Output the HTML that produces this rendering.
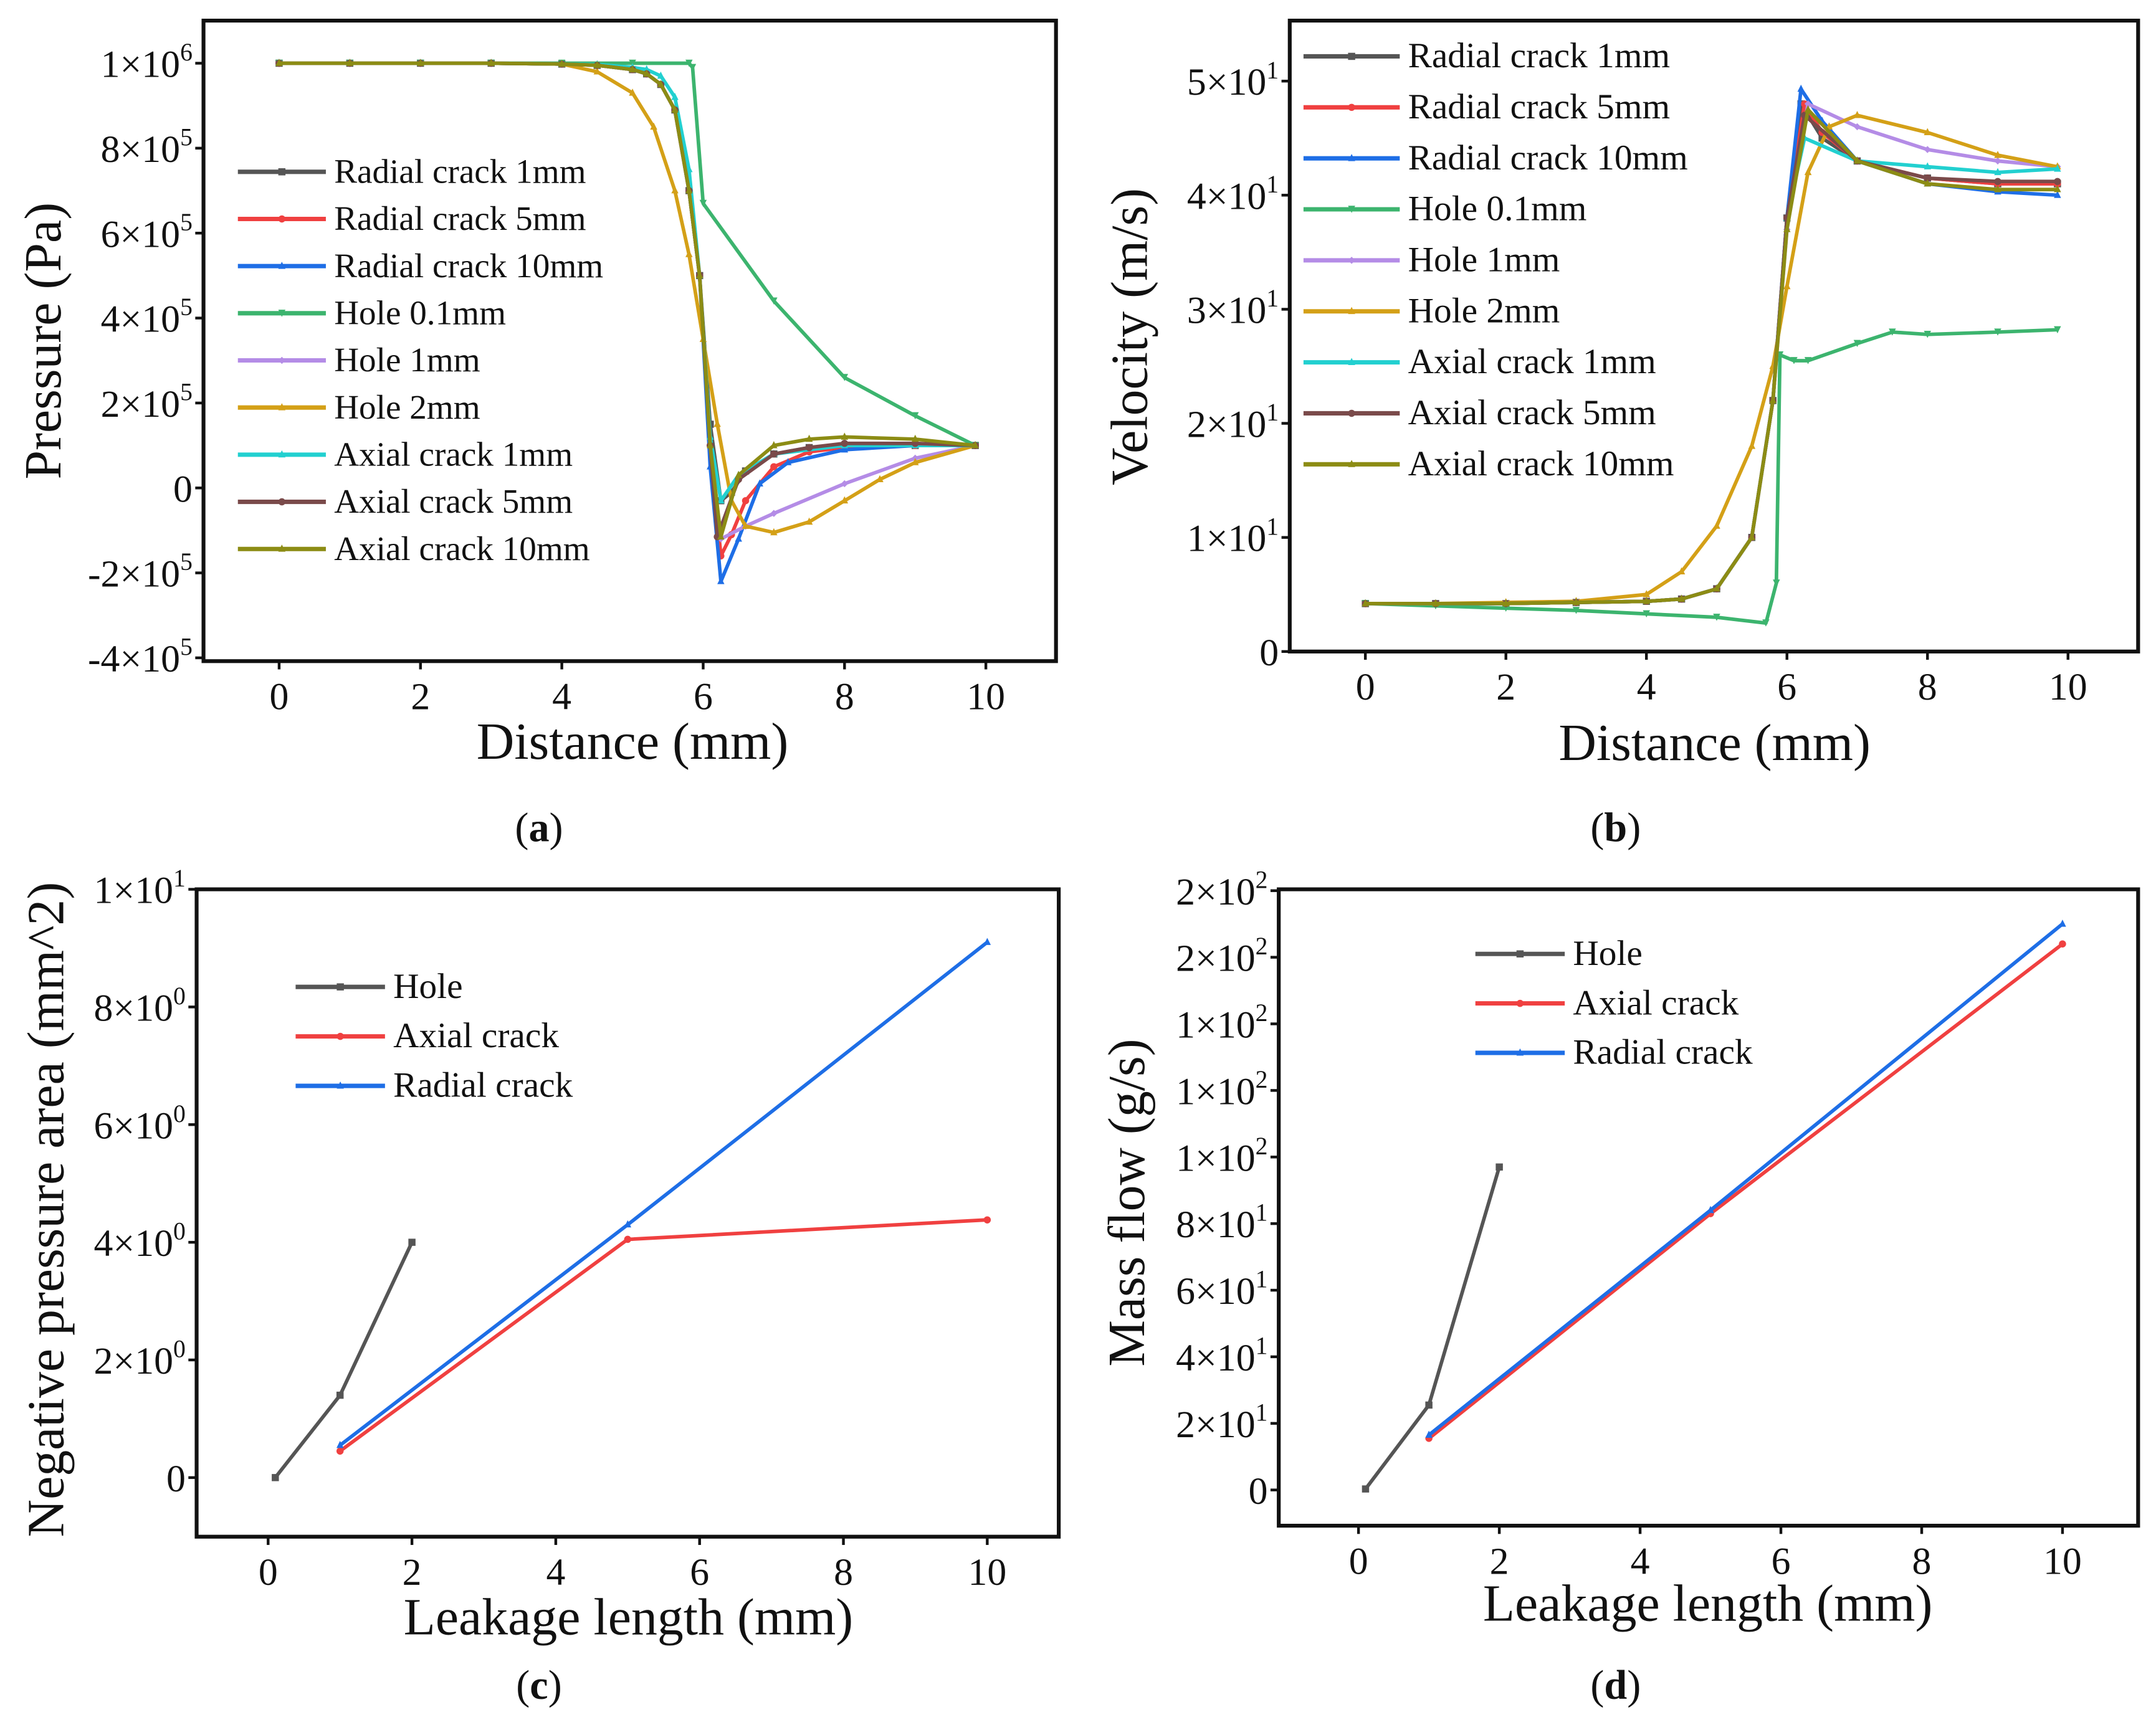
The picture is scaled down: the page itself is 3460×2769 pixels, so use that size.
<!DOCTYPE html>
<html><head><meta charset="utf-8"><style>
html,body{margin:0;padding:0;background:#fff}
svg{display:block}
svg text{font-family:"Liberation Serif","Times New Roman",serif;fill:#111}
</style></head><body>
<svg id="fig" xmlns="http://www.w3.org/2000/svg" width="3460" height="2769" viewBox="0 0 1568 1255" preserveAspectRatio="none" font-family="Liberation Serif, serif">
<rect width="1568" height="1255" fill="#fff"/>
</svg>
<script>
// ---------- data ----------
const aNames=["Radial crack 1mm","Radial crack 5mm","Radial crack 10mm","Hole 0.1mm","Hole 1mm","Hole 2mm","Axial crack 1mm","Axial crack 5mm","Axial crack 10mm"];
const colors=["#555555","#f04040","#1e6ee6","#3cb46e","#b48ce6","#d4a017","#22d0d0","#7a4a4a","#8c8c14"];
const markers=["s","c","t","v","d","t","t","c","t"];
// pressure (x mm, y in 1e5 Pa)
const pX=[
[0,1,2,3,4,4.5,5,5.2,5.4,5.6,5.8,5.95,6.1,6.25,6.4,6.6,7,7.5,8,9,9.85],
[0,1,2,3,4,4.5,5,5.2,5.4,5.6,5.8,5.95,6.1,6.25,6.4,6.6,7,7.5,8,9,9.85],
[0,1,2,3,4,4.5,5,5.2,5.4,5.6,5.8,5.95,6.1,6.25,6.5,6.8,7.2,8,9,9.85],
[0,1,2,3,4,5,5.8,5.85,6.0,7,8,9,9.85],
[0,1,2,3,4,4.5,5,5.2,5.4,5.6,5.8,5.95,6.1,6.25,6.6,7,8,9,9.85],
[0,1,2,3,4,4.5,5,5.3,5.6,5.8,6.0,6.2,6.4,6.6,7.0,7.5,8,8.5,9,9.85],
[0,1,2,3,4,4.5,5,5.2,5.4,5.6,5.8,5.95,6.1,6.25,6.5,7,8,9,9.85],
[0,1,2,3,4,4.5,5,5.2,5.4,5.6,5.8,5.95,6.1,6.2,6.5,7,7.5,8,9,9.85],
[0,1,2,3,4,4.5,5,5.2,5.4,5.6,5.8,5.95,6.1,6.25,6.5,7,7.5,8,9,9.85]];
const pY=[
[10,10,10,10,9.98,9.95,9.85,9.75,9.5,8.9,7,5,1.5,-0.3,-0.1,0.4,0.8,0.95,1.0,1.0,1.0],
[10,10,10,10,9.98,9.95,9.85,9.75,9.5,8.9,7,5,1,-1.6,-1.1,-0.3,0.5,0.85,0.95,1.0,1.0],
[10,10,10,10,9.98,9.95,9.85,9.75,9.5,8.9,7,5,0.5,-2.2,-1.2,0.1,0.6,0.9,1.0,1.0],
[10,10,10,10,10,10,10,9.9,6.7,4.4,2.6,1.7,1.0],
[10,10,10,10,9.98,9.95,9.85,9.75,9.5,8.9,7,5,1,-1.2,-0.9,-0.6,0.1,0.7,1.0],
[10,10,10,10,9.98,9.8,9.3,8.5,7.0,5.5,3.5,1.5,-0.3,-0.9,-1.05,-0.8,-0.3,0.2,0.6,1.0],
[10,10,10,10,9.98,9.97,9.9,9.85,9.7,9.2,7.5,5,1.2,-0.3,0.3,0.8,1.0,1.0,1.0],
[10,10,10,10,9.98,9.95,9.85,9.75,9.5,8.9,7,5,1,-1.15,0.2,0.8,0.95,1.05,1.05,1.0],
[10,10,10,10,9.98,9.95,9.85,9.75,9.5,8.9,7,5,1,-1.15,0.3,1.0,1.15,1.2,1.15,1.0]];
// velocity (m/s)
const vX=[
[0,1,2,3,4,4.5,5,5.5,5.8,6.0,6.2,6.5,7,8,9,9.85],
[0,1,2,3,4,4.5,5,5.5,5.8,6.0,6.25,6.5,7,8,9,9.85],
[0,1,2,3,4,4.5,5,5.5,5.8,6.0,6.2,6.5,7,8,9,9.85],
[0,1,2,3,4,5,5.7,5.85,5.9,6.1,6.3,7,7.5,8,9,9.85],
[0,1,2,3,4,4.5,5,5.5,5.8,6.0,6.3,7,8,9,9.85],
[0,1,2,3,4,4.5,5,5.5,5.8,6.0,6.3,6.6,7,8,9,9.85],
[0,1,2,3,4,4.5,5,5.5,5.8,6.0,6.25,7,8,9,9.85],
[0,1,2,3,4,4.5,5,5.5,5.8,6.0,6.25,7,8,9,9.85],
[0,1,2,3,4,4.5,5,5.5,5.8,6.0,6.3,7,8,9,9.85]];
const vY=[
[4.2,4.2,4.2,4.3,4.4,4.6,5.5,10,22,38,48,45,43,41.5,41,41],
[4.2,4.2,4.2,4.3,4.4,4.6,5.5,10,22,38,48,45.5,43,41.5,41,41],
[4.2,4.2,4.2,4.3,4.4,4.6,5.5,10,22,38,49.3,46.5,43,41,40.3,40],
[4.2,4.0,3.8,3.6,3.3,3.0,2.5,6,26,25.5,25.5,27,28,27.8,28,28.2],
[4.2,4.2,4.2,4.3,4.4,4.6,5.5,10,22,37,48,46,44,43,42.5],
[4.2,4.2,4.3,4.4,5,7,11,18,25,32,42,46,47,45.5,43.5,42.5],
[4.2,4.2,4.2,4.3,4.4,4.6,5.5,10,22,38,45,43,42.5,42,42.3],
[4.2,4.2,4.2,4.3,4.4,4.6,5.5,10,22,38,47,43,41.5,41.2,41.2],
[4.2,4.2,4.2,4.3,4.4,4.6,5.5,10,22,37,47.5,43,41,40.5,40.5]];
// (c) negative pressure area
const cNames=["Hole","Axial crack","Radial crack"];
const cColors=["#555555","#f04040","#1e6ee6"];
const cX=[[0.1,1,2],[1,5,10],[1,5,10]];
const cY=[[0,1.4,4.0],[0.45,4.05,4.38],[0.55,4.3,9.1]];
// (d) mass flow
const dX=[[0.1,1,2],[1,5,10],[1,5,10]];
const dY=[[0.3,25.5,97],[15.5,83,164],[16.5,84,170]];
// tick labels
const aYTicks=[["1×10","6",10],["8×10","5",8],["6×10","5",6],["4×10","5",4],["2×10","5",2],["0","",0],["-2×10","5",-2],["-4×10","5",-4]];
const bYTicks=[["0","",0],["1×10","1",10],["2×10","1",20],["3×10","1",30],["4×10","1",40],["5×10","1",50]];
const cYTicks=[["0","",0],["2×10","0",2],["4×10","0",4],["6×10","0",6],["8×10","0",8],["1×10","1",10]];
const dYTicks=[["0","",0],["2×10","1",20],["4×10","1",40],["6×10","1",60],["8×10","1",80],["1×10","2",100],["1×10","2",120],["1×10","2",140],["2×10","2",160],["2×10","2",180]];
const xTicks=[0,2,4,6,8,10];

// ---------- drawing ----------
const svg=document.getElementById('fig');
const NS="http://www.w3.org/2000/svg";
const FF="Liberation Serif, serif";
function mk(tag,attrs,parent){const e=document.createElementNS(NS,tag);for(const k in attrs)e.setAttribute(k,attrs[k]);if(tag==='text')e.setAttribute('font-family',FF);(parent||svg).appendChild(e);return e;}
function marker(g,type,x,y,c){
  const r=2.6;let e;
  if(type==="s")e=mk('rect',{x:x-r,y:y-r,width:2*r,height:2*r,fill:c},g);
  else if(type==="c")e=mk('circle',{cx:x,cy:y,r:r,fill:c},g);
  else if(type==="t")e=mk('polygon',{points:`${x},${y-r-0.6} ${x-r},${y+r-0.6} ${x+r},${y+r-0.6}`,fill:c},g);
  else if(type==="v")e=mk('polygon',{points:`${x},${y+r} ${x-r},${y-r} ${x+r},${y-r}`,fill:c},g);
  else e=mk('polygon',{points:`${x},${y-r} ${x+r},${y} ${x},${y+r} ${x-r},${y}`,fill:c},g);
  
  
}
function panel(o){
  const g=mk('g',{});
  
  
  const sx=v=>o.x0+(v-0)*(o.x10-o.x0)/10;
  const sy=v=>o.yZero+(v-o.yv0)*(o.yTop-o.yZero)/(o.yv1-o.yv0);
  o.series.forEach((s,i)=>{
    const sg=mk('g',{},g);
    
    
    const pts=s.x.map((xv,j)=>sx(xv).toFixed(1)+','+sy(s.y[j]).toFixed(1)).join(' ');
    const pl=mk('polyline',{points:pts,fill:'none',stroke:s.color,'stroke-width':2.6,'stroke-linejoin':'round'},sg);
    
    
    s.x.forEach((xv,j)=>marker(sg,s.marker,sx(xv),sy(s.y[j]),s.color));
  });
  const fr=mk('rect',{x:o.bx,y:o.by,width:o.bw,height:o.bh,fill:'none',stroke:'#111','stroke-width':2.8},g);
  
  
  xTicks.forEach(t=>{
    const X=sx(t);
    mk('line',{x1:X,y1:o.by+o.bh,x2:X,y2:o.by+o.bh+6,stroke:'#111','stroke-width':2},g);
    const tx=mk('text',{x:X,y:o.by+o.bh+35,'text-anchor':'middle','font-size':28},g);
    tx.textContent=t;
    
    
  });
  o.yTicks.forEach(t=>{
    const Y=sy(t[2]);
    mk('line',{x1:o.bx-6,y1:Y,x2:o.bx,y2:Y,stroke:'#111','stroke-width':2},g);
    const tx=mk('text',{x:o.bx-8,y:Y+10,'text-anchor':'end','font-size':28},g);
    
    
    if(t[1]===""){tx.textContent=t[0];}
    else{
      const a=mk('tspan',{},tx);a.textContent=t[0];
      const b=mk('tspan',{dy:-12,'font-size':18},tx);b.textContent=t[1];
    }
  });
  const xt=mk('text',{x:o.xtx,y:o.xty,'text-anchor':'middle','font-size':38},g);
  xt.textContent=o.xTitle;
  
  
  const yt=mk('text',{x:0,y:0,'text-anchor':'middle','font-size':38,transform:`translate(${o.ytx},${o.yty}) rotate(-90)`},g);
  yt.textContent=o.yTitle;
  
  
  const lg=mk('g',{},g);
  
  
  o.series.forEach((s,i)=>{
    const y=o.ly0+i*o.lgap;
    const eg=mk('g',{},lg);
    
    
    mk('line',{x1:o.lx1,y1:y,x2:o.lx2,y2:y,stroke:s.color,'stroke-width':3.2},eg);
    marker(eg,s.marker,(o.lx1+o.lx2)/2,y,s.color);
    const tx=mk('text',{x:o.lx2+6,y:y+8,'font-size':o.lfs},eg);
    tx.textContent=s.name;
  });
  const pl=mk('text',{x:o.labx,y:o.laby,'text-anchor':'middle','font-size':30},g);
  
  
  const p1=mk('tspan',{},pl);p1.textContent='(';
  const p2=mk('tspan',{'font-weight':'bold'},pl);p2.textContent=o.label;
  const p3=mk('tspan',{},pl);p3.textContent=')';
}
const aSeries=aNames.map((n,i)=>({name:n,color:colors[i],marker:markers[i],x:pX[i],y:pY[i]}));
const bSeries=aNames.map((n,i)=>({name:n,color:colors[i],marker:markers[i],x:vX[i],y:vY[i]}));
const cSeries=cNames.map((n,i)=>({name:n,color:cColors[i],marker:["s","c","t"][i],x:cX[i],y:cY[i]}));
const dSeries=cNames.map((n,i)=>({name:n,color:cColors[i],marker:["s","c","t"][i],x:dX[i],y:dY[i]}));

panel({name:'panel-a-pressure',series:aSeries,bx:148,by:15,bw:620,bh:466,x0:203,x10:717,
  yZero:355,yTop:46,yv0:0,yv1:10,yTicks:aYTicks,xTitle:'Distance (mm)',xtx:460,xty:552,
  yTitle:'Pressure (Pa)',ytx:44,yty:248,lx1:173,lx2:237,ly0:125,lgap:34.3,lfs:25,labx:392,laby:612,label:'a'});
panel({name:'panel-b-velocity',series:bSeries,bx:938,by:15,bw:617,bh:459,x0:993,x10:1504,
  yZero:474,yTop:59,yv0:0,yv1:50,yTicks:bYTicks,xTitle:'Distance (mm)',xtx:1247,xty:553,
  yTitle:'Velocity (m/s)',ytx:834,yty:245,lx1:948,lx2:1018,ly0:41,lgap:37.1,lfs:26,labx:1175,laby:612,label:'b'});
panel({name:'panel-c-negative-pressure-area',series:cSeries,bx:143,by:647,bw:627,bh:471,x0:195,x10:718,
  yZero:1075,yTop:647,yv0:0,yv1:10,yTicks:cYTicks,xTitle:'Leakage length (mm)',xtx:457,xty:1189,
  yTitle:'Negative pressure area (mm^2)',ytx:46,yty:880,lx1:215,lx2:280,ly0:718,lgap:36,lfs:26,labx:392,laby:1236,label:'c'});
panel({name:'panel-d-mass-flow',series:dSeries,bx:930,by:647,bw:625,bh:463,x0:988,x10:1500,
  yZero:1084,yTop:648,yv0:0,yv1:180,yTicks:dYTicks,xTitle:'Leakage length (mm)',xtx:1242,xty:1179,
  yTitle:'Mass flow (g/s)',ytx:832,yty:875,lx1:1073,lx2:1138,ly0:694,lgap:36,lfs:26,labx:1175,laby:1236,label:'d'});
</script>
</body></html>
